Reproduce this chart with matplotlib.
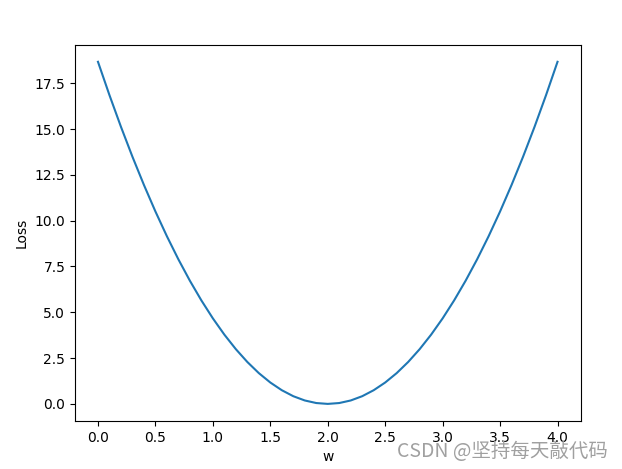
import matplotlib
matplotlib.use("Agg")
import matplotlib.pyplot as plt

w_list = [0.0, 0.1, 0.2, 0.3, 0.4, 0.5, 0.6, 0.7, 0.8, 0.9, 1.0,
          1.1, 1.2, 1.3, 1.4, 1.5, 1.6, 1.7, 1.8, 1.9, 2.0,
          2.1, 2.2, 2.3, 2.4, 2.5, 2.6, 2.7, 2.8, 2.9, 3.0,
          3.1, 3.2, 3.3, 3.4, 3.5, 3.6, 3.7, 3.8, 3.9, 4.0]
mse_list = [18.667, 16.847, 15.120, 13.487, 11.947, 10.500, 9.147, 7.887, 6.720, 5.647, 4.667,
            3.780, 2.987, 2.287, 1.680, 1.167, 0.747, 0.420, 0.187, 0.047, 0.000,
            0.047, 0.187, 0.420, 0.747, 1.167, 1.680, 2.287, 2.987, 3.780, 4.667,
            5.647, 6.720, 7.887, 9.147, 10.500, 11.947, 13.487, 15.120, 16.847, 18.667]

fig = plt.figure(figsize=(6.22, 4.69), dpi=100)
ax = fig.add_axes([75/622, 1-421/469, (580.5-75)/622, (421-44.7)/469])
ax.plot(w_list, mse_list, color="#1f77b4")
ax.set_xlabel("w")
ax.set_ylabel("Loss")
fig.text(0.977, 0.037, "CSDN @坚持每天敲代码", ha="right", va="center",
         fontsize=14, color="#a0a0a0", family=["Noto Sans CJK SC", "DejaVu Sans"])
fig.savefig("out.png", dpi=100)
